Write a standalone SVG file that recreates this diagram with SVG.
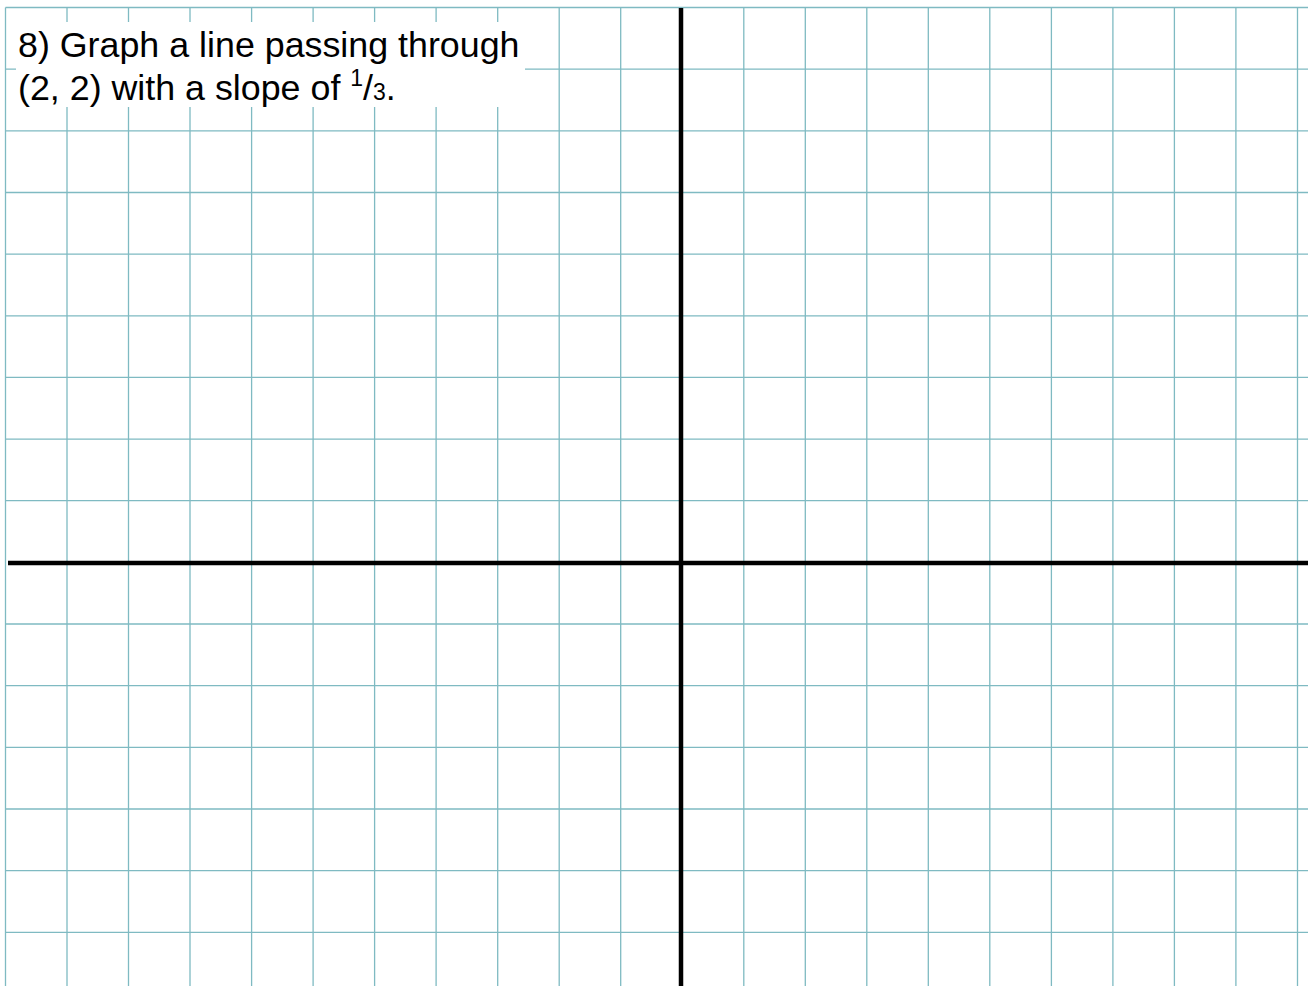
<svg xmlns="http://www.w3.org/2000/svg" width="1308" height="986" viewBox="0 0 1308 986">
<style>
.grid{stroke:#7fbac2;stroke-width:1.3;fill:none}
.axis{stroke:#000;stroke-width:4.5;fill:none}
.t{font-family:"Liberation Sans",Arial,sans-serif;font-size:35.8px;fill:#000}
</style>
<rect width="1308" height="986" fill="#fff"/>
<g id="grid">
<path class="grid" d="M5.5 7.5V986M67 7.5V986M128.5 7.5V986M190 7.5V986M251.6 7.5V986M313.1 7.5V986M374.6 7.5V986M436.1 7.5V986M497.7 7.5V986M559.2 7.5V986M620.7 7.5V986M743.8 7.5V986M805.3 7.5V986M866.8 7.5V986M928.3 7.5V986M989.8 7.5V986M1051.4 7.5V986M1112.9 7.5V986M1174.4 7.5V986M1235.9 7.5V986M1297.5 7.5V986"/>
<path class="grid" d="M5.5 7.5H1308M5.5 69.2H1308M5.5 130.8H1308M5.5 192.5H1308M5.5 254.1H1308M5.5 315.8H1308M5.5 377.4H1308M5.5 439.1H1308M5.5 500.7H1308M5.5 624H1308M5.5 685.7H1308M5.5 747.3H1308M5.5 809H1308M5.5 870.6H1308M5.5 932.3H1308"/>
</g>
<g id="axes">
<line class="axis" x1="8" y1="563" x2="1308" y2="563"/>
<line class="axis" x1="681" y1="8" x2="681" y2="986"/>
</g>
<g id="prompt">
<rect x="16" y="22" width="509" height="85" fill="#fff"/>
<text class="t" x="18" y="57">8) Graph a line passing through</text>
<text class="t" x="18" y="100">(2, 2) with a slope of <tspan font-size="23" dy="-14">1</tspan><tspan dy="14">/</tspan><tspan font-size="23">3</tspan>.</text>
</g>
</svg>
